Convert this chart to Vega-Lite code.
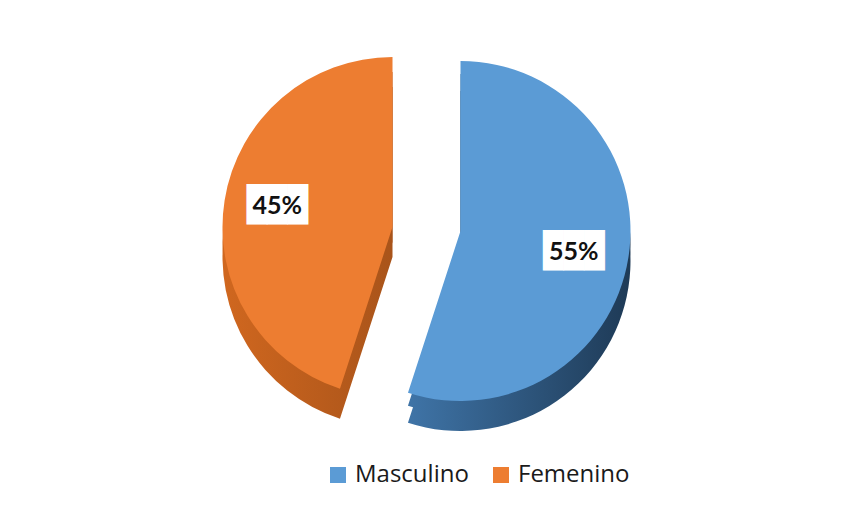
{
  "$schema": "https://vega.github.io/schema/vega-lite/v6.json",
  "width": 851,
  "height": 514,
  "autosize": {"type": "fit", "contains": "padding"},
  "padding": {"top": 20, "left": 10, "right": 10, "bottom": 76},
  "background": "white",
  "data": {
    "values": [
      {"sexo": "Masculino", "porcentaje": 55, "orden": 1, "etiqueta": "55%"},
      {"sexo": "Femenino", "porcentaje": 45, "orden": 2, "etiqueta": "45%"}
    ]
  },
  "encoding": {
    "theta": {"field": "porcentaje", "type": "quantitative", "stack": true},
    "order": {"field": "orden", "type": "quantitative"}
  },
  "layer": [
    {
      "mark": {"type": "arc", "outerRadius": 170, "xOffset": 35, "yOffset": 15,
        "fill": {"gradient": "linear", "x1": 0, "x2": 1, "y1": 0, "y2": 0,
          "stops": [{"offset": 0, "color": "#3F74A7"}, {"offset": 1, "color": "#1E3A56"}]}},
      "encoding": {"fillOpacity": {"condition": {"test": "datum.sexo === 'Masculino'", "value": 1}, "value": 0}}
    },
    {
      "mark": {"type": "arc", "outerRadius": 170, "xOffset": 35, "yOffset": 32,
        "fill": {"gradient": "linear", "x1": 0, "x2": 1, "y1": 0, "y2": 0,
          "stops": [{"offset": 0, "color": "#3F74A7"}, {"offset": 1, "color": "#1E3A56"}]}},
      "encoding": {"fillOpacity": {"condition": {"test": "datum.sexo === 'Masculino'", "value": 1}, "value": 0}}
    },
    {
      "mark": {"type": "arc", "outerRadius": 170, "xOffset": -33, "yOffset": 13,
        "fill": {"gradient": "linear", "x1": 0, "x2": 1, "y1": 0, "y2": 0,
          "stops": [{"offset": 0, "color": "#D0671F"}, {"offset": 1, "color": "#A9541A"}]}},
      "encoding": {"fillOpacity": {"condition": {"test": "datum.sexo === 'Femenino'", "value": 1}, "value": 0}}
    },
    {
      "mark": {"type": "arc", "outerRadius": 170, "xOffset": -33, "yOffset": 28,
        "fill": {"gradient": "linear", "x1": 0, "x2": 1, "y1": 0, "y2": 0,
          "stops": [{"offset": 0, "color": "#D0671F"}, {"offset": 1, "color": "#A9541A"}]}},
      "encoding": {"fillOpacity": {"condition": {"test": "datum.sexo === 'Femenino'", "value": 1}, "value": 0}}
    },
    {
      "mark": {"type": "arc", "outerRadius": 170, "xOffset": 35, "yOffset": 2},
      "encoding": {
        "color": {"field": "sexo", "type": "nominal",
          "scale": {"domain": ["Masculino", "Femenino"], "range": ["#5B9BD5", "#ED7D31"]},
          "legend": {"orient": "none", "legendX": 316, "legendY": 443, "direction": "horizontal", "title": null, "symbolType": "square",
            "symbolSize": 256, "symbolStrokeWidth": 0, "labelFontSize": 24, "labelFont": "Open Sans",
            "labelColor": "#1A1A1A", "columnPadding": 20, "labelLimit": 0, "labelOffset": 5, "symbolOpacity": 1}},
        "fillOpacity": {"condition": {"test": "datum.sexo === 'Masculino'", "value": 1}, "value": 0}
      }
    },
    {
      "mark": {"type": "arc", "outerRadius": 170, "xOffset": -33, "yOffset": -2},
      "encoding": {
        "color": {"field": "sexo", "type": "nominal"},
        "fillOpacity": {"condition": {"test": "datum.sexo === 'Femenino'", "value": 1}, "value": 0}
      }
    },
    {
      "mark": {"type": "text", "font": "DejaVu Sans Mono", "fontSize": 34, "fill": "white", "baseline": "middle", "align": "center"},
      "encoding": {
        "radius": {"value": 150},
        "text": {"value": "███"}
      }
    },
    {
      "mark": {"type": "text", "font": "Lato", "fontWeight": "bold", "fontSize": 25, "fill": "#111111", "baseline": "middle", "align": "center"},
      "encoding": {
        "radius": {"value": 150},
        "text": {"field": "etiqueta", "type": "nominal"}
      }
    }
  ],
  "config": {"view": {"stroke": null}}
}
